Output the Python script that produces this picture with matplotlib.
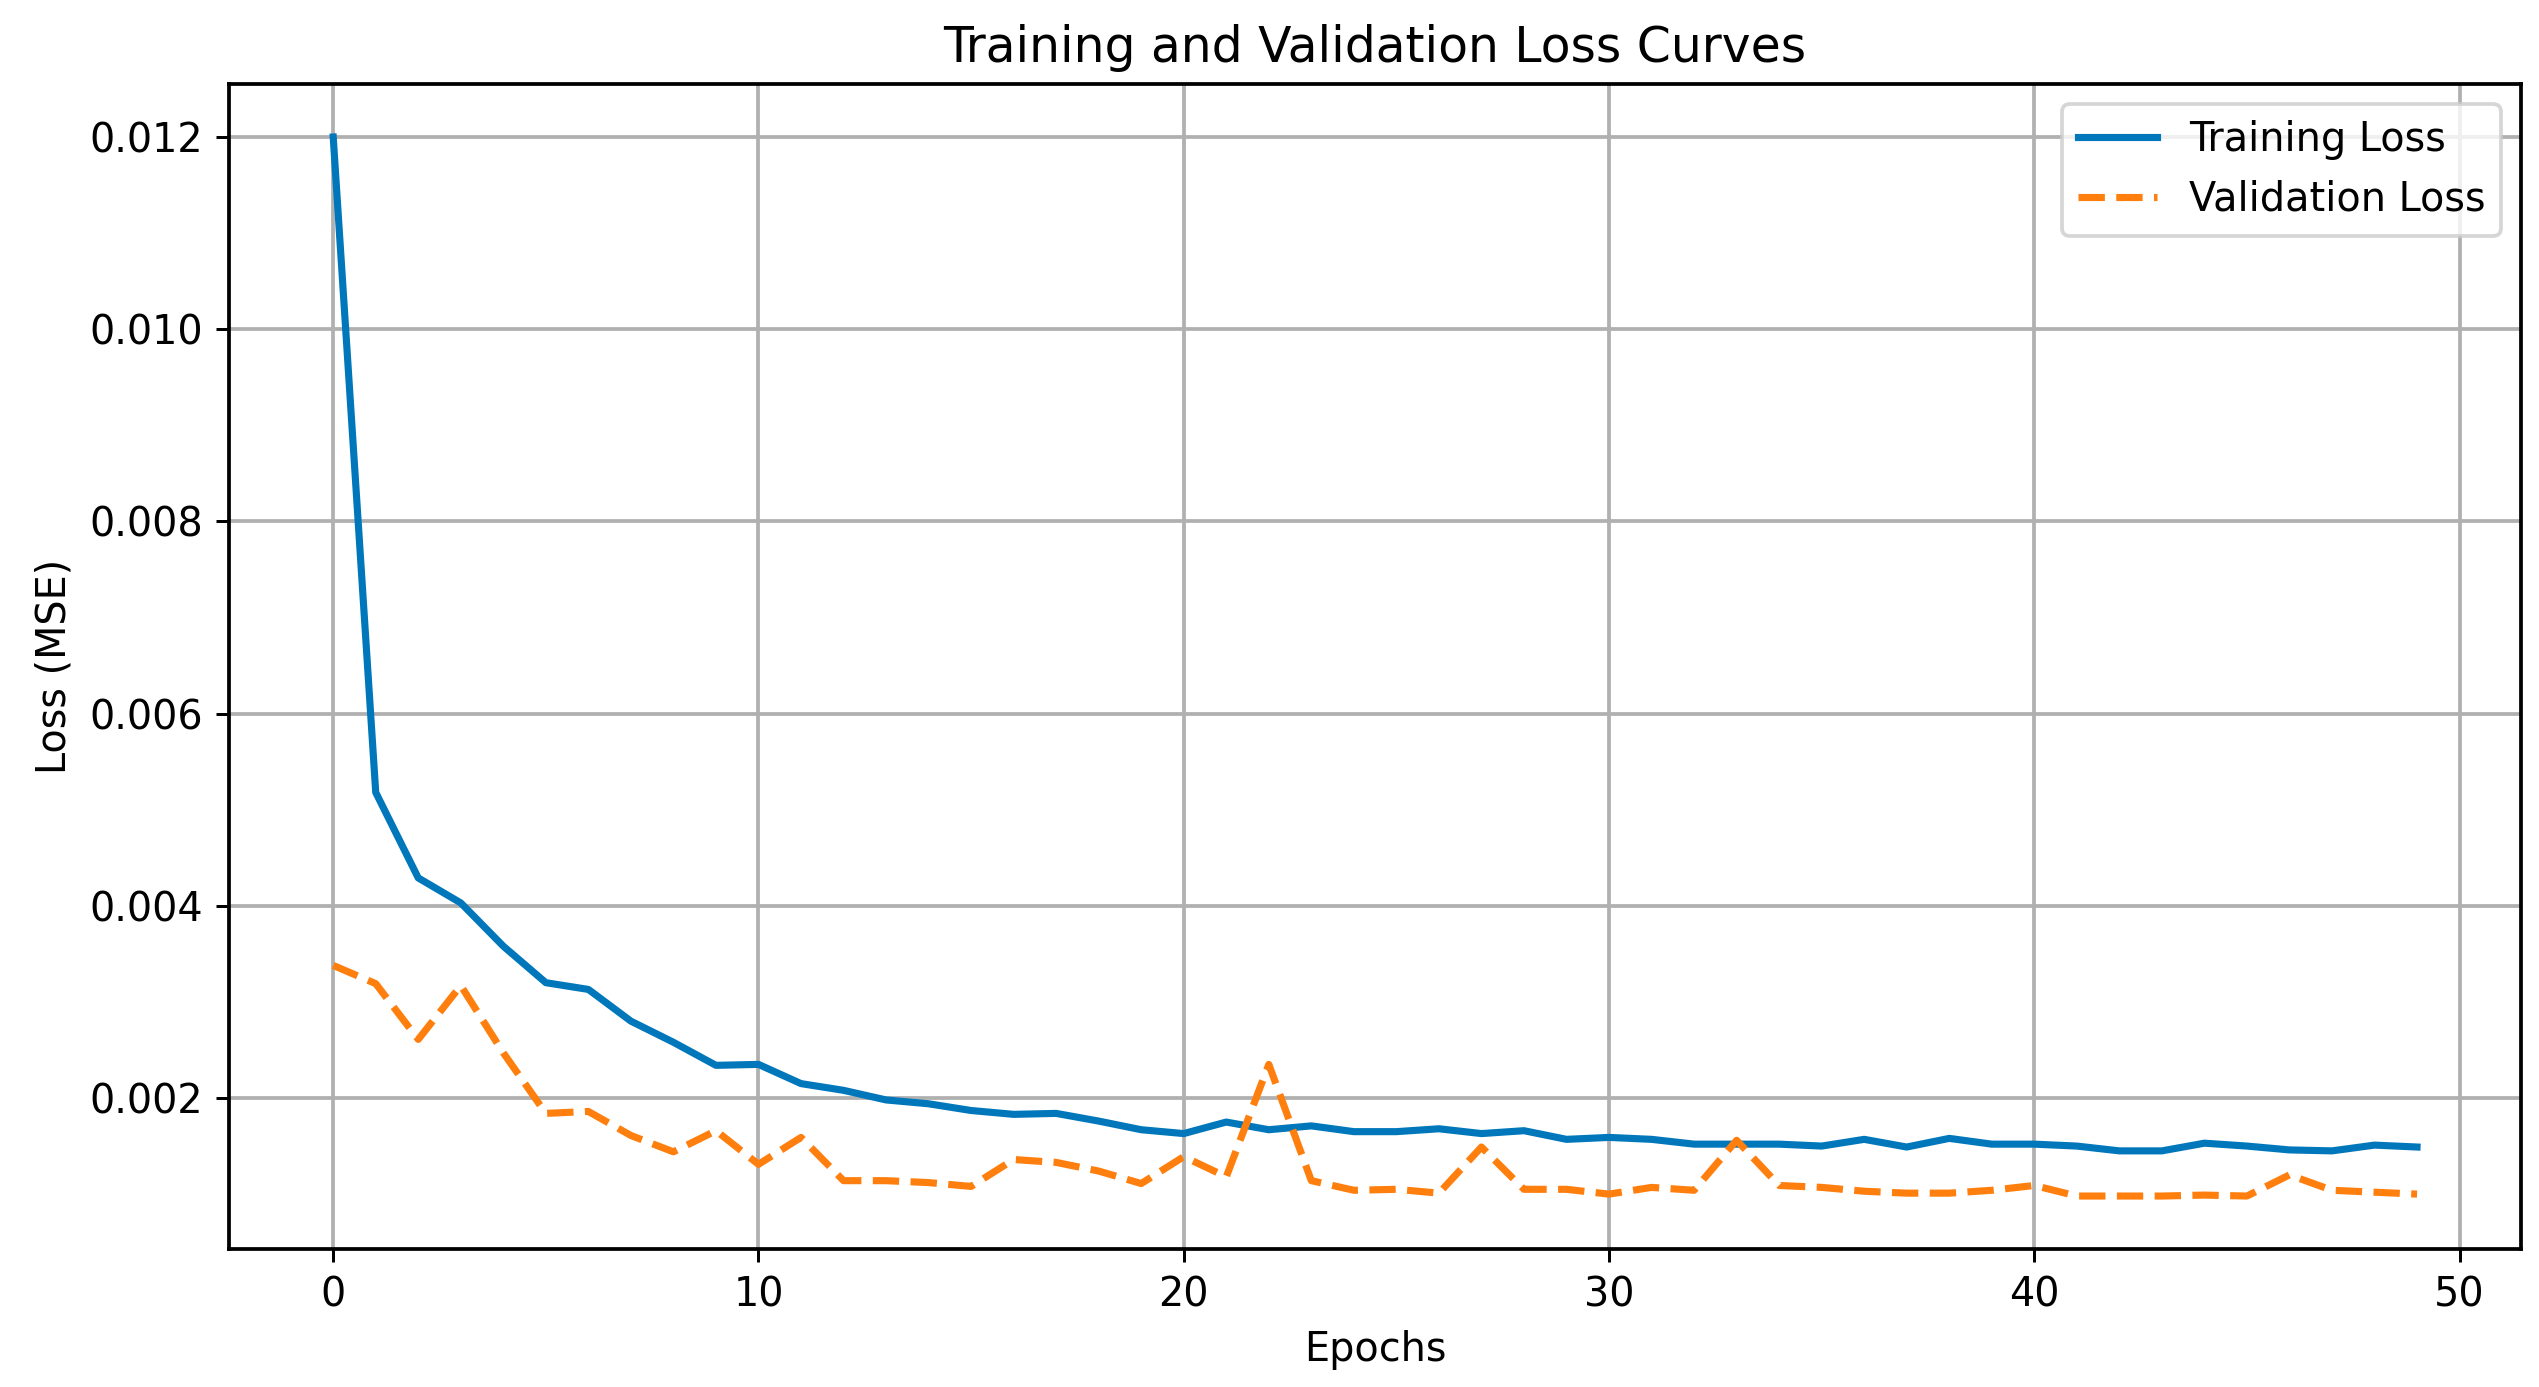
import numpy as np
import matplotlib
matplotlib.use("Agg")
import matplotlib.pyplot as plt

# loss values per epoch
epochs = list(range(50))

train_loss = [
    0.01200, 0.00518, 0.00429, 0.00403, 0.00358, 0.00320, 0.00313, 0.00280, 0.00258, 0.00234,
    0.00235, 0.00215, 0.00208, 0.00198, 0.00194, 0.00187, 0.00183, 0.00184, 0.00176, 0.00167,
    0.00163, 0.00175, 0.00167, 0.00171, 0.00165, 0.00165, 0.00168, 0.00163, 0.00166, 0.00157,
    0.00159, 0.00157, 0.00152, 0.00152, 0.00152, 0.00150, 0.00157, 0.00149, 0.00158, 0.00152,
    0.00152, 0.00150, 0.00145, 0.00145, 0.00153, 0.00150, 0.00146, 0.00145, 0.00151, 0.00149,
]

val_loss = [
    0.00338, 0.00319, 0.00261, 0.00317, 0.00247, 0.00184, 0.00186, 0.00161, 0.00144, 0.00166,
    0.00131, 0.00159, 0.00114, 0.00114, 0.00112, 0.00108, 0.00136, 0.00133, 0.00124, 0.00111,
    0.00139, 0.00118, 0.00235, 0.00114, 0.00104, 0.00105, 0.00101, 0.00149, 0.00105, 0.00105,
    0.00100, 0.00107, 0.00104, 0.00156, 0.00109, 0.00107, 0.00103, 0.00101, 0.00101, 0.00104,
    0.00109, 0.00098, 0.00098, 0.00098, 0.00099, 0.00098, 0.00120, 0.00104, 0.00102, 0.00100,
]

plt.rcParams['font.size'] = 10.6
plt.rcParams['grid.linewidth'] = 1.0
plt.rcParams['axes.linewidth'] = 1.0

fig = plt.figure(figsize=(2539 / 270, 1387 / 270), dpi=270)
ax = fig.add_axes([0.0902, 0.0995, 0.9028, 0.8399])

ax.plot(epochs, train_loss, color='#0077BB', linewidth=1.9, label='Training Loss')
ax.plot(epochs, val_loss, color='#FF7F0E', linestyle='--', linewidth=1.9, label='Validation Loss')

ax.set_title('Training and Validation Loss Curves', fontsize=13)
ax.set_xlabel('Epochs')
ax.set_ylabel('Loss (MSE)')
ax.grid(True)
ax.legend(loc='upper right')

fig.savefig('out.png', dpi=270)
